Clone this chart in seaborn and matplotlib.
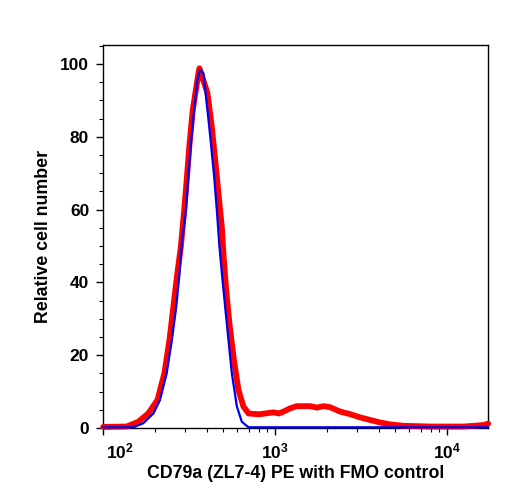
import numpy as np
import pandas as pd
import seaborn as sns
import matplotlib
matplotlib.use("Agg")
import matplotlib.pyplot as plt
import matplotlib.ticker as mticker
import matplotlib.transforms as mtrans

# Data (PE intensity vs relative cell number)
red_x = [100, 137, 160, 183, 207, 227, 243, 256, 270, 283, 296, 307, 318, 332,
         358, 363, 404, 428, 448, 468, 490, 500, 519, 542, 572, 612, 654, 700,
         783, 818, 978, 1050, 1117, 1222, 1337, 1597, 1750, 1910, 2088, 2387,
         2730, 3121, 3566, 4077, 4662, 5570, 7963, 12440, 16260, 17300]
red_y = [0.3, 0.4, 1.7, 4.0, 7.7, 15.0, 24.2, 33.3, 42.5, 49.8, 59.9, 69.0, 78.2,
         87.4, 97.4, 98.8, 92.0, 82.8, 73.6, 64.5, 55.0, 48.0, 37.9, 28.8, 19.6,
         10.4, 5.9, 4.0, 3.8, 3.8, 4.3, 4.0, 4.5, 5.4, 6.0, 6.0, 5.6, 6.0, 5.7,
         4.5, 3.8, 2.9, 2.2, 1.5, 1.0, 0.6, 0.4, 0.4, 0.8, 1.2]

blue_x = [100, 150, 171, 196, 214, 234, 251, 266, 278, 287, 303, 313, 324, 338,
          353, 366, 383, 404, 423, 442, 458, 474, 490, 512, 535, 560, 599, 640,
          700, 17300]
blue_y = [0.2, 0.2, 1.3, 4.0, 7.7, 15.0, 24.2, 33.3, 42.5, 51.0, 59.9, 69.0,
          78.3, 87.4, 95.6, 98.4, 97.4, 87.4, 78.3, 69.0, 59.9, 50.0, 42.5, 33.3,
          24.2, 15.0, 5.9, 1.7, 0.2, 0.2]

x_label = "CD79a (ZL7-4) PE with FMO control"
y_label = "Relative cell number"
y_ticks = [0, 20, 40, 60, 80, 100]
x_ticks = [100, 1000, 10000]
x_tick_labels = [r"$\mathbf{10^{2}}$", r"$\mathbf{10^{3}}$", r"$\mathbf{10^{4}}$"]

sns.set_theme(style="ticks")
plt.rcParams["font.family"] = ["Liberation Sans", "DejaVu Sans"]
plt.rcParams["font.weight"] = "bold"
plt.rcParams["mathtext.fontset"] = "custom"
plt.rcParams["mathtext.bf"] = "Liberation Sans:bold"
plt.rcParams["mathtext.rm"] = "Liberation Sans:bold"
plt.rcParams["text.color"] = "black"
plt.rcParams["axes.labelcolor"] = "black"
plt.rcParams["xtick.color"] = "black"
plt.rcParams["ytick.color"] = "black"

df_red = pd.DataFrame({"x": red_x, "y": red_y})
df_blue = pd.DataFrame({"x": blue_x, "y": blue_y})

fig = plt.figure(figsize=(5.08, 5.0), dpi=100)
ax = fig.add_axes([0.203, 0.144, 0.758, 0.766])

sns.lineplot(data=df_red, x="x", y="y", ax=ax, color="#ff0000", lw=4.2,
             sort=False, estimator=None, zorder=4)
sns.lineplot(data=df_blue, x="x", y="y", ax=ax, color="#0000ee", lw=1.6,
             sort=False, estimator=None, zorder=5)
for ln in ax.lines:
    ln.set_clip_on(False)
    ln.set_solid_joinstyle("round")

ax.set_xscale("log")
ax.set_xlim(100, 17300)
ax.set_ylim(0, 105.2)

ax.set_yticks(y_ticks)
ax.yaxis.set_minor_locator(mticker.MultipleLocator(5))
ax.set_xticks(x_ticks)
ax.set_xticklabels(x_tick_labels)
ax.xaxis.set_minor_locator(mticker.LogLocator(base=10, subs=np.arange(2, 10)))
ax.xaxis.set_minor_formatter(mticker.NullFormatter())

for sp in ax.spines.values():
    sp.set_visible(True)
    sp.set_color("black")
    sp.set_linewidth(1.0)

ax.tick_params(axis="both", which="major", direction="out", length=5, width=1,
               colors="black", labelsize=12.5, pad=5)
ax.tick_params(axis="both", which="minor", direction="out", length=3, width=0.8,
               colors="black")
ax.tick_params(top=False, right=False, which="both")
for lab in ax.get_yticklabels() + ax.get_xticklabels():
    lab.set_fontweight("bold")
    lab.set_color("black")

first = ax.get_xticklabels()[0]
first.set_ha("left")
first.set_transform(first.get_transform() +
                    mtrans.ScaledTranslation(3 / 100, 0, fig.dpi_scale_trans))

ax.set_xlabel(x_label, fontsize=12.8, fontweight="bold", labelpad=2, color="black")
ax.set_ylabel(y_label, fontsize=12.8, fontweight="bold", labelpad=6, color="black")

fig.savefig("out.png", dpi=100)
